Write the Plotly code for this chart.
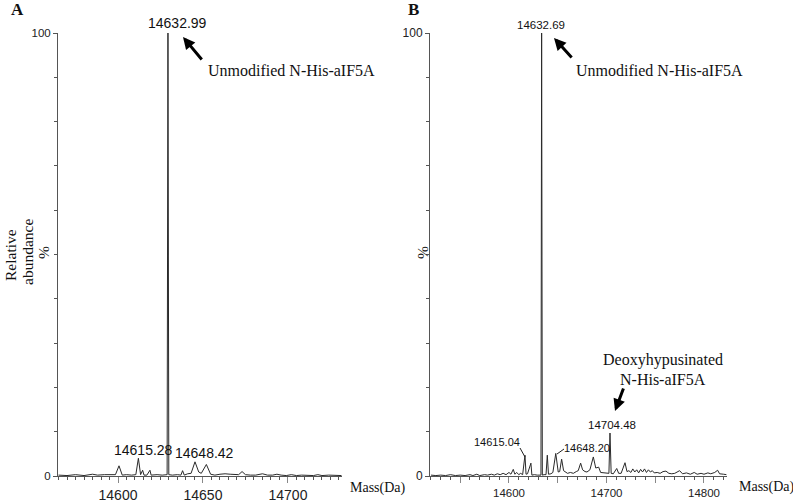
import plotly.graph_objects as go

W, H = 793, 502

# ---------------- data ----------------
# Panel A profile (mass in Da, relative abundance %)
mass_A = [14565, 14570, 14575, 14580, 14585, 14588, 14592, 14596, 14598.5, 14600.6,
          14602.5, 14605, 14608, 14610.5, 14612, 14613.3, 14614.5, 14615.3, 14617, 14618.8,
          14619.5, 14623, 14626, 14628.9, 14629.4, 14629.9, 14632, 14635, 14637, 14638,
          14639, 14641, 14643, 14645.3, 14647.5, 14649, 14652, 14654.5, 14657, 14660,
          14663, 14666, 14669, 14671, 14673, 14675, 14678, 14681, 14685, 14688,
          14691, 14693.5, 14696, 14699, 14702, 14705, 14708, 14712, 14715, 14717.6,
          14720, 14724, 14728, 14731.5]
abund_A = [0.2, 0.1, 0.3, 0.1, 0.4, 0.2, 0.3, 0.2, 0.3, 2.3,
           0.2, 0.3, 0.2, 0.3, 4.0, 0.3, 1.3, 0.2, 0.2, 1.3,
           0.2, 0.3, 0.2, 0.3, 100, 0.3, 0.2, 0.3, 0.2, 1.2,
           0.2, 0.5, 0.6, 3.2, 0.9, 0.6, 2.6, 0.4, 0.2, 0.4,
           0.5, 0.4, 0.4, 0.3, 1.0, 0.3, 0.2, 0.2, 0.5, 0.2,
           0.2, 0.4, 0.2, 0.1, 0.3, 0.1, 0.2, 0.1, 0.1, 0.3,
           0.1, 0.2, 0.1, 0.1]

# Panel B profile
mass_B = [14520, 14525, 14530, 14535, 14540, 14545, 14550, 14555, 14560, 14563,
          14567, 14570, 14575, 14578, 14582, 14585, 14588, 14591, 14594, 14597,
          14600, 14602, 14604.4, 14606, 14608, 14610, 14612, 14614, 14616.4, 14617.5,
          14619, 14622.5, 14623.5, 14626, 14629, 14632.8, 14633.5, 14634.2, 14636, 14638,
          14639.3, 14640.5, 14643, 14645, 14648, 14650.5, 14652, 14654, 14656, 14658,
          14660, 14663, 14666, 14669, 14671, 14673.5, 14675.5, 14678, 14680, 14683,
          14686.5, 14689, 14692, 14694, 14697, 14700, 14702.5, 14703.6, 14704.8, 14707,
          14710.5, 14712.5, 14715, 14719, 14721, 14723, 14725, 14727, 14729, 14731,
          14733, 14735, 14737, 14739, 14741, 14743, 14745, 14747, 14749, 14752,
          14755, 14758, 14761, 14764, 14767, 14770, 14775, 14778, 14782, 14786,
          14790, 14793, 14797, 14800, 14804, 14807, 14811, 14814, 14816, 14820,
          14823]
abund_B = [0.2, 0.1, 0.2, 0.1, 0.3, 0.1, 0.2, 0.1, 0.3, 0.1,
           0.4, 0.1, 0.3, 0.2, 0.4, 0.2, 0.5, 0.3, 0.6, 0.3,
           0.8, 0.4, 1.5, 0.4, 0.8, 0.3, 0.6, 0.3, 4.7, 0.4,
           0.5, 2.9, 0.2, 0.3, 0.2, 0.2, 100, 0.2, 0.3, 0.3,
           4.7, 0.4, 0.5, 0.8, 5.1, 0.9, 1.0, 3.8, 1.2, 0.9,
           0.6, 0.8, 0.6, 1.0, 1.2, 2.9, 1.4, 1.0, 0.9, 1.4,
           4.3, 1.8, 2.0, 0.8, 0.7, 0.6, 0.6, 9.7, 0.6, 0.5,
           1.7, 0.6, 0.6, 3.0, 1.0, 1.2, 0.8, 1.6, 0.9, 1.4,
           0.7, 1.5, 0.9, 1.6, 0.8, 1.4, 0.9, 1.2, 0.7, 0.8,
           0.6, 1.0, 1.1, 0.6, 0.5, 0.6, 1.2, 0.5, 0.7, 0.4,
           0.8, 0.4, 0.6, 0.4, 0.7, 0.5, 0.8, 1.3, 0.5, 0.4,
           0.3]

xrange_A = [14564.7, 14731.8]
xrange_B = [14519, 14823.6]
xticks_A = [14600, 14650, 14700]
xticks_B = [14550, 14600, 14650, 14700, 14750, 14800]
xticklabels_B = ["", "14600", "", "14700", "", "14800"]

peak_labels_A = ["14632.99", "14615.28", "14648.42"]
peak_labels_B = ["14632.69", "14615.04", "14648.20", "14704.48"]

# ---------------- layout helpers (reference pixel -> paper) ----------------
def px(x):
    return x / W

def py(y):
    return 1 - y / H

SANS = "Liberation Sans, Arial, sans-serif"
SERIF = "Liberation Serif, Times New Roman, serif"
AX = "#555555"
LINE = "#2a2a2a"

fig = go.Figure()
fig.add_trace(go.Scatter(x=mass_A, y=abund_A, mode="lines", xaxis="x", yaxis="y",
                         line=dict(color=LINE, width=1), showlegend=False, hoverinfo="skip"))
fig.add_trace(go.Scatter(x=mass_B, y=abund_B, mode="lines", xaxis="x2", yaxis="y2",
                         line=dict(color=LINE, width=1), showlegend=False, hoverinfo="skip"))

ydomain = [py(476), py(33)]

def xaxis(domain, rng, tickvals, ticktext, size, minor, anchor):
    return dict(domain=domain, range=rng, anchor=anchor, showgrid=False, zeroline=False,
                automargin=False,
                showline=True, linecolor=AX, linewidth=1,
                tickmode="array", tickvals=tickvals, ticktext=ticktext,
                ticks="outside", ticklen=6, tickcolor="#888888", tickwidth=1,
                tickfont=dict(family=SANS, size=size, color="#222222"),
                minor=dict(dtick=minor, tick0=14500, ticks="outside", ticklen=3,
                           tickcolor=AX, showgrid=False))

def yaxis(anchor, size):
    return dict(domain=ydomain, range=[0, 100], anchor=anchor, showgrid=False, zeroline=False,
                automargin=False,
                showline=True, linecolor=AX, linewidth=1,
                tickmode="array", tickvals=[0, 100], ticktext=["0", "100"],
                ticks="outside", ticklen=4, tickcolor=AX,
                tickfont=dict(family=SANS, size=size, color="#222222"),
                minor=dict(dtick=10, tick0=0, ticks="outside", ticklen=3,
                           tickcolor=AX, showgrid=False))

fig.update_layout(
    width=W, height=H, margin=dict(l=0, r=0, t=0, b=0, autoexpand=False),
    paper_bgcolor="white", plot_bgcolor="white",
    xaxis=xaxis([px(58), px(342)], xrange_A, xticks_A, [str(v) for v in xticks_A], 14, 5, "y"),
    yaxis=yaxis("x", 11.5),
    xaxis2=xaxis([px(430), px(727)], xrange_B, xticks_B, xticklabels_B, 11.5, 10, "y2"),
    yaxis2=yaxis("x2", 12),
)

ann = []

def text(x, y, s, font, size, bold=False, angle=0, xanchor="center"):
    ann.append(dict(x=px(x), y=py(y), xref="paper", yref="paper", text=("<b>%s</b>" % s) if bold else s,
                    showarrow=False, xanchor=xanchor, yanchor="middle", textangle=angle,
                    font=dict(family=font, size=size, color="#111111")))

def arrow(hx, hy, tx, ty):
    ann.append(dict(x=px(hx), y=py(hy), xref="paper", yref="paper", text="",
                    showarrow=True, ax=tx - hx, ay=ty - hy, axref="pixel", ayref="pixel",
                    arrowhead=2, arrowsize=0.8, arrowwidth=3, arrowcolor="#000000"))

def leader(x0, y0, x1, y1):
    fig.add_shape(type="line", xref="paper", yref="paper", x0=px(x0), y0=py(y0), x1=px(x1), y1=py(y1),
                  line=dict(color="#222222", width=1))

# Panel letters
text(17, 10, "A", SERIF, 17, bold=True)
text(413, 10, "B", SERIF, 17, bold=True)

# Y axis titles
text(10, 255, "Relative", SERIF, 15.5, angle=-90)
text(27, 252, "abundance", SERIF, 15.5, angle=-90)
text(43, 253, "%", SERIF, 15.5, angle=-90)
text(422, 253, "%", SERIF, 15.5, angle=-90)

# X axis titles
text(348, 488, "Mass(Da)", SERIF, 14, xanchor="left")
text(737, 487, "Mass(Da)", SERIF, 14, xanchor="left")

# Panel A peak labels
text(177, 23, peak_labels_A[0], SANS, 14)
text(143, 450, peak_labels_A[1], SANS, 14)
text(204, 453, peak_labels_A[2], SANS, 14)
arrow(183, 37, 203, 61)
text(206, 70, "Unmodified N-His-aIF5A", SERIF, 16, xanchor="left")

# Panel B peak labels
text(541, 25, peak_labels_B[0], SANS, 11.5)
text(497, 442, peak_labels_B[1], SANS, 11)
leader(520, 448, 525, 457)
text(587, 448, peak_labels_B[2], SANS, 11)
leader(557, 454, 564, 449)
text(612, 425, peak_labels_B[3], SANS, 11.5)
arrow(554, 38, 573, 59)
text(574, 70, "Unmodified N-His-aIF5A", SERIF, 16, xanchor="left")
text(663, 360, "Deoxyhypusinated", SERIF, 16)
text(663, 379, "N-His-aIF5A", SERIF, 16)
arrow(615, 411, 624, 387)

fig.update_layout(annotations=ann)
# remove the default 8 px page margin so the figure sits at the window's top-left corner
fig.write_html("out.html", config={"displayModeBar": False},
               post_script="document.body.style.margin='0px';")
